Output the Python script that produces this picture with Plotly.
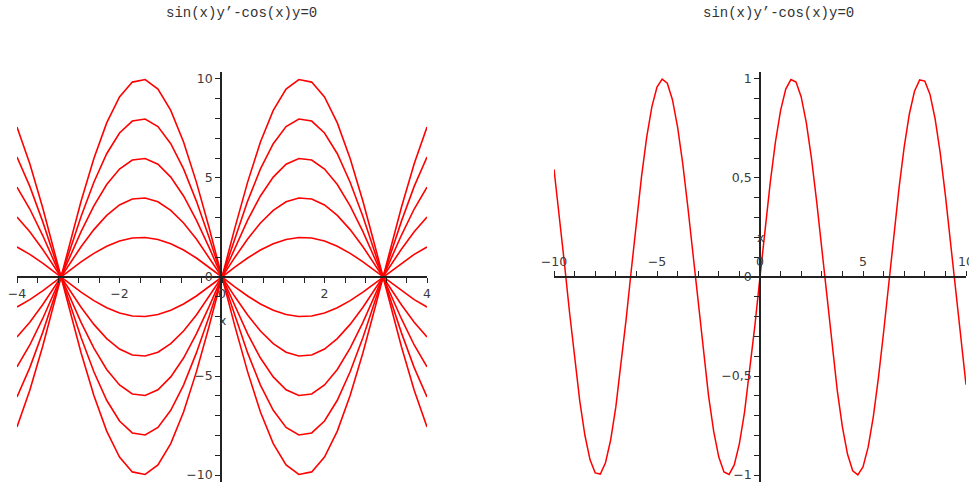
import plotly.graph_objects as go

W, H = 969, 485


def px(x):
    return x / W


def py(y):
    return (H - y) / H


# ---- data ----
title_text = "sin(x)y\u2019-cos(x)y=0"

# left panel: family of solution curves y = C * profile(x)
x_left = [i * 0.25 for i in range(-16, 17)]
unit_left = [0.757, 0.572, 0.351, 0.108, -0.141, -0.382, -0.598, -0.778, -0.909,
             -0.984, -0.997, -0.949, -0.841, -0.682, -0.479, -0.247, 0.0,
             0.247, 0.479, 0.682, 0.841, 0.949, 0.997, 0.984, 0.909, 0.778,
             0.598, 0.382, 0.141, -0.108, -0.351, -0.572, -0.757]
C_values = [-10, -8, -6, -4, -2, 0, 2, 4, 6, 8, 10]

# right panel: single solution curve
x_right = [i * 0.25 for i in range(-40, 41)]
y_right = [0.544, 0.320, 0.075, -0.174, -0.412, -0.625, -0.799, -0.923, -0.989, -0.995,
           -0.938, -0.823, -0.657, -0.450, -0.215, 0.033, 0.279, 0.508, 0.706, 0.859,
           0.959, 0.999, 0.978, 0.895, 0.757, 0.572, 0.351, 0.108, -0.141, -0.382,
           -0.598, -0.778, -0.909, -0.984, -0.997, -0.949, -0.841, -0.682, -0.479, -0.247,
           0.0,
           0.247, 0.479, 0.682, 0.841, 0.949, 0.997, 0.984, 0.909, 0.778, 0.598,
           0.382, 0.141, -0.108, -0.351, -0.572, -0.757, -0.895, -0.978, -0.999, -0.959,
           -0.859, -0.706, -0.508, -0.279, -0.033, 0.215, 0.450, 0.657, 0.823, 0.938,
           0.995, 0.989, 0.923, 0.799, 0.625, 0.412, 0.174, -0.075, -0.320, -0.544]

fig = go.Figure()
for c in C_values:
    fig.add_trace(go.Scatter(x=x_left, y=[c * v for v in unit_left], mode="lines",
                             line=dict(color="#ff0000", width=1.6),
                             xaxis="x", yaxis="y", hoverinfo="skip"))
fig.add_trace(go.Scatter(x=x_right, y=y_right, mode="lines",
                         line=dict(color="#ff0000", width=1.5),
                         xaxis="x2", yaxis="y2", hoverinfo="skip"))

axcol = "#222222"
tfont = dict(family="DejaVu Sans", size=12.5, color="#3a3a3a")
zero_y = py(277)
ydom = [py(482), py(72)]

common = dict(showgrid=False, zeroline=False, showline=True, linecolor=axcol,
              linewidth=1.6, ticks="outside", ticklen=5, tickwidth=1,
              tickcolor=axcol, tickfont=tfont, anchor="free", fixedrange=True,
              automargin=False, ticklabeloverflow="allow", layer="above traces")

fig.update_layout(
    width=W, height=H, autosize=False,
    margin=dict(l=0, r=0, t=0, b=0, pad=0, autoexpand=False),
    paper_bgcolor="white", plot_bgcolor="white",
    showlegend=False, separators=", ", hovermode=False,
    xaxis=dict(domain=[px(17), px(427)], range=[-4, 4], position=zero_y, side="bottom",
               tick0=0, dtick=2,
               minor=dict(ticks="outside", tick0=-4, dtick=0.4, ticklen=5,
                          tickwidth=1, tickcolor=axcol, showgrid=False),
               **common),
    yaxis=dict(domain=ydom, range=[-10.35, 10.35], position=px(221), side="left",
               tick0=0, dtick=5,
               minor=dict(ticks="outside", tick0=0, dtick=1, ticklen=5,
                          tickwidth=1, tickcolor=axcol, showgrid=False),
               **common),
    xaxis2=dict(domain=[px(554), px(966)], range=[-10, 10], position=zero_y, side="top",
                tick0=0, dtick=5,
                minor=dict(ticks="outside", tick0=0, dtick=1, ticklen=5,
                           tickwidth=1, tickcolor=axcol, showgrid=False),
                **common),
    yaxis2=dict(domain=ydom, range=[-1.035, 1.035], position=px(760), side="left",
                tick0=0, dtick=0.5,
                minor=dict(ticks="outside", tick0=0, dtick=0.1, ticklen=5,
                           tickwidth=1, tickcolor=axcol, showgrid=False),
                **common),
)

tfont_title = dict(family="Liberation Mono", size=14, color="#333333")
fig.add_annotation(text=title_text, xref="paper", yref="paper", x=px(241), y=py(13),
                   showarrow=False, font=tfont_title, xanchor="center", yanchor="middle")
fig.add_annotation(text=title_text, xref="paper", yref="paper", x=px(778), y=py(13),
                   showarrow=False, font=tfont_title, xanchor="center", yanchor="middle")
fig.add_annotation(text="x", xref="paper", yref="paper", x=px(222), y=py(320),
                   showarrow=False, font=tfont, xanchor="center", yanchor="middle")
fig.add_annotation(text="x", xref="paper", yref="paper", x=px(760), y=py(237),
                   showarrow=False, font=tfont, xanchor="center", yanchor="middle")

fig.write_html("out.html",
               config={"displayModeBar": False},
               post_script="document.body.style.margin='0px';"
                           "document.body.style.overflow='hidden';")
